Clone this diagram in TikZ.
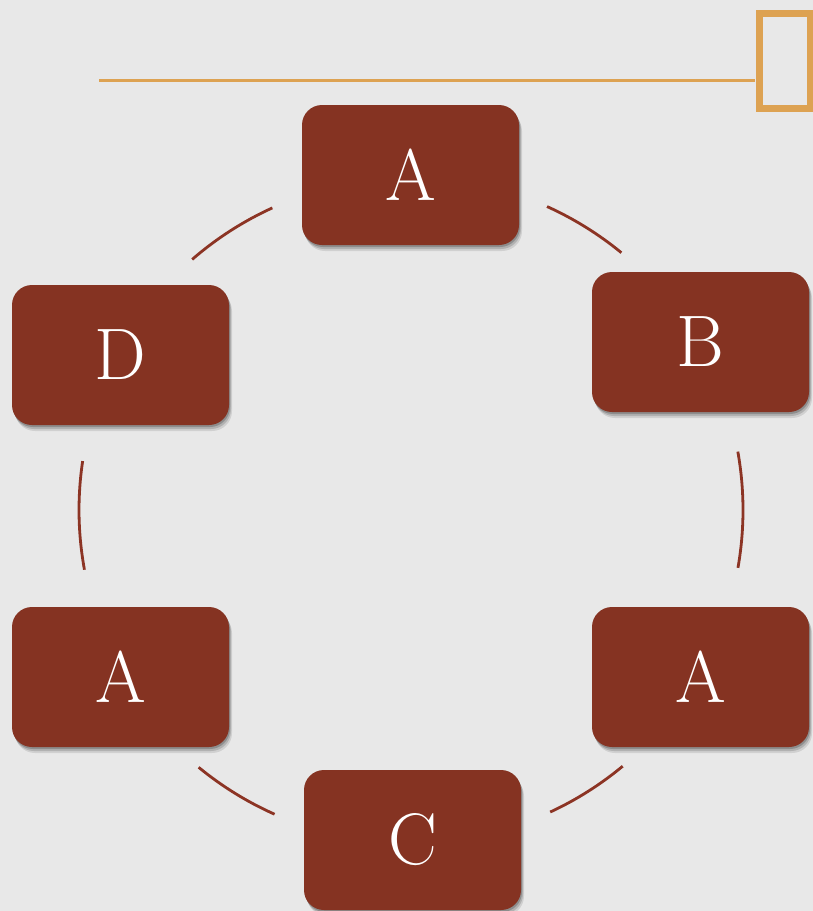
\documentclass[tikz,border=0pt]{standalone}
\usetikzlibrary{shadows}
\definecolor{bg}{RGB}{232,232,232}
\definecolor{boxred}{RGB}{133,51,34}
\definecolor{arcred}{RGB}{140,52,36}
\definecolor{gold}{RGB}{221,162,82}
\begin{document}
\begin{tikzpicture}[x=1pt,y=1pt,
  stagebox/.style={draw=none, fill=boxred, rounded corners=20pt,
    minimum width=217pt, minimum height=140pt, inner sep=0pt,
    text=white, font=\fontsize{73}{80}\selectfont,
    drop shadow={shadow xshift=3pt, shadow yshift=-6pt, opacity=0.10, fill=black},
    drop shadow={shadow xshift=2pt, shadow yshift=-4pt, opacity=0.15, fill=black},
    drop shadow={shadow xshift=1pt, shadow yshift=-2pt, opacity=0.2, fill=black}},
  link/.style={draw=arcred, line width=2.8pt}]
\useasboundingbox (0,0) rectangle (813,-911);
\fill[bg] (0,0) rectangle (813,-911);
% decoration
\coordinate (l1) at (99,-80);
\coordinate (l2) at (755,-80);
\draw[gold, line width=3pt] (l1) -- (l2);
\draw[gold, line width=7pt] (759,-13.5) rectangle (810,-108.5);
% nodes
\node[stagebox] (a1) at (410.5,-175) {A};
\node[stagebox] (b) at (700.5,-342) {B};
\node[stagebox] (a2) at (700.5,-677) {A};
\node[stagebox] (c) at (412.5,-840) {C};
\node[stagebox] (a3) at (120.5,-677) {A};
\node[stagebox] (d) at (120.5,-355) {D};
% arcs on circle
\coordinate (O) at (410,-510);
\draw[link] ([shift={(65.7:333)}]O) arc[start angle=65.7, end angle=50.6, radius=333];
\draw[link] ([shift={(10.1:333)}]O) arc[start angle=10.1, end angle=-10, radius=333];
\draw[link] ([shift={(-50.3:333)}]O) arc[start angle=-50.3, end angle=-65.1, radius=333];
\draw[link] ([shift={(246:333)}]O) arc[start angle=246, end angle=230.6, radius=333];
\draw[link] ([shift={(190.4:331)}]O) arc[start angle=190.4, end angle=171.5, radius=331];
\draw[link] ([shift={(131:332)}]O) arc[start angle=131, end angle=114.5, radius=332];
\end{tikzpicture}
\end{document}
